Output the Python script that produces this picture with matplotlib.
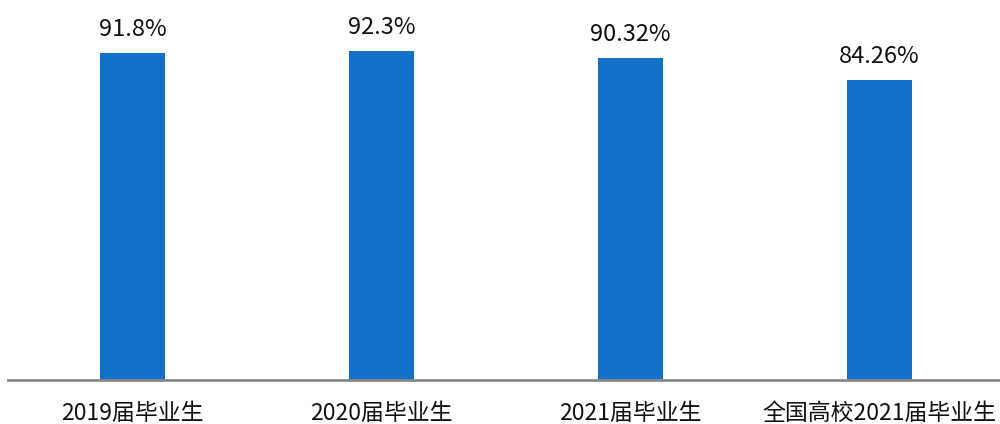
import matplotlib.pyplot as plt

plt.rcParams['font.family'] = ['Noto Sans CJK SC', 'DejaVu Sans']

categories = ['2019届毕业生', '2020届毕业生', '2021届毕业生', '全国高校2021届毕业生']
values = [91.8, 92.3, 90.32, 84.26]
value_labels = ['91.8%', '92.3%', '90.32%', '84.26%']

fig = plt.figure(figsize=(10, 4.24), dpi=100)
ax = fig.add_axes([0.008, 0.104, 0.996, 0.84])

x = range(len(categories))
bars = ax.bar(x, values, width=0.265, color='#1170C8', zorder=2)

for b, lab in zip(bars, value_labels):
    ax.text(b.get_x() + b.get_width() / 2, b.get_height() + 3.3, lab,
            ha='center', va='bottom', fontsize=17, color='#111111')

ax.set_xlim(-0.5, 3.5)
ax.set_ylim(0, 100)
ax.set_xticks(list(x))
ax.set_xticklabels(categories, fontsize=16.5, color='#111111')
ax.tick_params(axis='x', length=0, pad=16)
ax.set_yticks([])
for s in ['top', 'right', 'left']:
    ax.spines[s].set_visible(False)
ax.spines['bottom'].set_color('#898989')
ax.spines['bottom'].set_linewidth(2)

fig.savefig('out.png', dpi=100)
